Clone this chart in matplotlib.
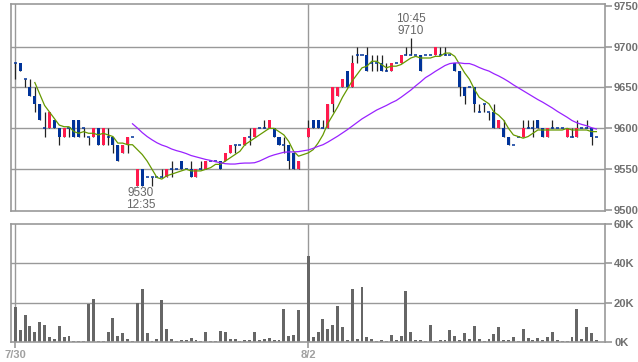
import numpy as np
import pandas as pd
import matplotlib
matplotlib.use('Agg')
import matplotlib.pyplot as plt

# 5-minute bars: index 0-59 = 7/30, index 60-119 = 8/2 (None = no bar)
opens = [9680, 9680, 9660, 9650, 9640, 9630, 9600, 9600, 9610, 9600,
         9590, 9600, 9610, 9610, 9600, 9590, 9590, 9600, 9580, 9590,
         9590, 9580, 9570, 9580, 9590, 9530, 9550, 9540, 9540, 9540,
         9540, 9540, 9550, 9550, 9560, 9550, 9550, 9540, 9550, 9550,
         9560, 9560, 9560, 9560, 9570, 9580, 9580, 9580, 9590, 9590,
         9600, 9600, 9600, 9600, 9590, 9580, 9580, 9570, 9550, None,
         9590, 9610, 9610, 9600, 9600, 9630, 9640, 9650, 9670, 9650,
         9690, 9690, 9690, 9680, 9680, 9680, 9670, 9670, 9680, 9680,
         9690, 9690, 9690, 9690, 9690, 9690, 9690, 9690, 9690, 9690,
         9680, 9670, 9650, 9650, 9650, 9620, 9630, 9620, 9620, 9600,
         9600, 9590, 9580, 9590, 9590, 9600, 9600, 9610, 9600, 9590,
         9600, 9600, 9600, 9590, 9590, 9590, 9600, 9600, 9600, 9590]
highs = [9680, 9680, 9660, 9660, 9650, 9630, 9620, 9620, 9610, 9600,
         9600, 9600, 9610, 9610, 9600, 9590, 9600, 9600, 9600, 9600,
         9590, 9580, 9580, 9590, 9590, 9550, 9550, 9540, 9540, 9540,
         9550, 9550, 9560, 9550, 9560, 9550, 9560, 9550, 9560, 9560,
         9560, 9560, 9560, 9570, 9580, 9580, 9580, 9590, 9600, 9600,
         9600, 9610, 9610, 9600, 9590, 9590, 9580, 9570, 9560, None,
         9610, 9610, 9610, 9610, 9630, 9650, 9650, 9660, 9670, 9690,
         9700, 9690, 9700, 9690, 9690, 9690, 9680, 9680, 9680, 9690,
         9700, 9710, 9690, 9690, 9690, 9690, 9700, 9700, 9700, 9690,
         9680, 9670, 9650, 9650, 9650, 9630, 9630, 9620, 9630, 9610,
         9610, 9590, 9580, 9590, 9610, 9610, 9610, 9610, 9600, 9600,
         9610, 9600, 9600, 9600, 9600, 9610, 9600, 9610, 9600, 9590]
lows = [9660, 9670, 9650, 9640, 9620, 9610, 9590, 9600, 9600, 9580,
        9590, 9590, 9590, 9590, 9590, 9580, 9590, 9580, 9580, 9580,
        9570, 9560, 9570, 9570, 9590, 9530, 9530, 9540, 9530, 9540,
        9540, 9540, 9540, 9550, 9550, 9550, 9540, 9540, 9550, 9550,
        9560, 9560, 9550, 9560, 9570, 9570, 9580, 9580, 9580, 9590,
        9600, 9600, 9600, 9590, 9580, 9570, 9550, 9550, 9550, None,
        9590, 9600, 9600, 9600, 9600, 9620, 9640, 9650, 9650, 9650,
        9680, 9690, 9670, 9670, 9670, 9670, 9670, 9670, 9680, 9680,
        9690, 9690, 9690, 9670, 9690, 9690, 9690, 9690, 9690, 9690,
        9670, 9640, 9630, 9650, 9620, 9620, 9620, 9610, 9600, 9600,
        9590, 9580, 9580, 9590, 9590, 9600, 9590, 9600, 9590, 9590,
        9600, 9600, 9600, 9590, 9590, 9590, 9600, 9600, 9580, 9590]
closes = [9680, 9670, 9660, 9640, 9630, 9610, 9600, 9620, 9600, 9590,
          9600, 9600, 9590, 9590, 9600, 9590, 9600, 9580, 9600, 9590,
          9580, 9560, 9580, 9590, 9590, 9550, 9530, 9540, 9540, 9540,
          9540, 9550, 9550, 9550, 9550, 9550, 9540, 9550, 9550, 9560,
          9560, 9560, 9550, 9570, 9580, 9580, 9580, 9590, 9590, 9600,
          9600, 9600, 9610, 9590, 9580, 9580, 9560, 9550, 9560, None,
          9600, 9600, 9600, 9600, 9630, 9650, 9650, 9660, 9650, 9680,
          9690, 9690, 9670, 9680, 9680, 9670, 9670, 9680, 9680, 9690,
          9690, 9690, 9690, 9670, 9690, 9690, 9700, 9690, 9690, 9690,
          9670, 9650, 9640, 9650, 9630, 9620, 9630, 9620, 9600, 9610,
          9590, 9580, 9580, 9590, 9600, 9600, 9600, 9600, 9590, 9600,
          9600, 9600, 9600, 9600, 9590, 9600, 9600, 9600, 9590, 9590]
# volume in shares
volumes = [17800, 6100, 13700, 8100, 5100, 10200, 8600, 2500, 1500, 8100,
           2500, 3000, 500, 500, 500, 19300, 21900, 500, 500, 5100,
           12200, 3000, 4600, 1500, 500, 20000, 27000, 4600, 500, 1500,
           21400, 6600, 1500, 500, 1000, 1000, 2000, 1000, 500, 5100,
           500, 500, 5600, 5100, 1500, 1500, 500, 1000, 1000, 5100,
           1000, 1500, 2000, 1000, 1000, 16800, 3000, 3600, 16300, 0,
           43700, 2500, 5000, 11600, 6600, 8600, 18200, 7600, 1000, 27200,
           1500, 28200, 2500, 1500, 500, 1000, 500, 3500, 1000, 3000,
           25700, 5000, 1000, 1000, 500, 8600, 500, 1000, 1000, 6000,
           3000, 1000, 4500, 1500, 8000, 1500, 500, 1500, 4000, 7600,
           1000, 1000, 2500, 500, 6600, 2000, 1000, 2000, 1000, 2500,
           5000, 1000, 500, 500, 2500, 16600, 1500, 7600, 4500, 1000]
day_labels = ['7/30', '8/2']
day_starts = [0, 60]
price_ticks = [9500, 9550, 9600, 9650, 9700, 9750]
vol_ticks = [0, 20000, 40000, 60000]
vol_labels = ['0K', '20K', '40K', '60K']

RED = '#ff1a4d'
BLUE = '#003399'
GRID = '#999999'
TXT = '#707070'
FONT = 'Liberation Sans'

o = np.array(opens, dtype=float)
h = np.array(highs, dtype=float)
l = np.array(lows, dtype=float)
c = np.array(closes, dtype=float)
x = np.arange(len(c))
ok = ~np.isnan(c)

fig = plt.figure(figsize=(6.38, 3.62), dpi=100)
ax = fig.add_axes([11/638, 1-211/362, 594/638, 207/362])
axv = fig.add_axes([11/638, 1-342/362, 594/638, 118/362])

xl = (-0.88, 120.76)
for a in (ax, axv):
    a.set_xlim(*xl)
    for s in a.spines.values():
        s.set_color(GRID)
        s.set_linewidth(1.2)
    for d in day_starts:
        a.axvline(d, color=GRID, lw=1, zorder=0)

# price panel
ax.set_ylim(9499, 9752)
for p in price_ticks[1:-1]:
    ax.axhline(p, color=GRID, lw=1, zorder=0)
ax.vlines(x[ok], l[ok], h[ok], color='#222222', lw=0.9, zorder=2)
up = ok & (c > o)
dn = ok & (c < o)
fl = ok & (c == o)
ax.bar(x[up], (c - o)[up], bottom=o[up], width=0.62, color=RED, zorder=3)
ax.bar(x[dn], (o - c)[dn], bottom=c[dn], width=0.62, color=BLUE, zorder=3)
ax.hlines(c[fl], x[fl] - 0.31, x[fl] + 0.31, color=BLUE, lw=1.1, zorder=3)

s = pd.Series(c[ok], index=x[ok])
ma5 = s.rolling(5).mean()
ma25 = s.rolling(25).mean()
ax.plot(ma5.index, ma5.values, color='#669900', lw=0.9, zorder=4)
ax.plot(ma25.index, ma25.values, color='#9922ff', lw=0.9, zorder=4)

ih = int(np.nanargmax(h))
il = int(np.nanargmin(l))
ax.text(ih, h[ih] + 2, '10:45\n%d' % h[ih], ha='center', va='bottom',
        fontsize=8.5, color='#666666', linespacing=1.0, family=FONT)
ax.text(il + 0.6, l[il] - 2, '%d\n12:35' % l[il], ha='center', va='top',
        fontsize=8.5, color='#666666', linespacing=1.0, family=FONT)

ax.yaxis.tick_right()
ax.set_yticks(price_ticks)
ax.set_yticklabels([str(p) for p in price_ticks])
ax.tick_params(axis='y', length=5, width=1.2, color=GRID, pad=1.5,
               labelsize=8, labelcolor=TXT)
for t in ax.get_yticklabels():
    t.set_fontweight('bold')
    t.set_family(FONT)
ax.set_xticks([])

# volume panel
axv.set_ylim(0, 60000)
for v in vol_ticks[1:-1]:
    axv.axhline(v, color=GRID, lw=1, zorder=0)
axv.bar(x, volumes, width=0.6, color='#666666', zorder=2)
axv.yaxis.tick_right()
axv.set_yticks(vol_ticks)
axv.set_yticklabels(vol_labels)
axv.tick_params(axis='y', length=5, width=1.2, color=GRID, pad=1.5,
                labelsize=8, labelcolor=TXT)
for t in axv.get_yticklabels():
    t.set_fontweight('bold')
    t.set_family(FONT)
axv.set_xticks(day_starts)
axv.set_xticklabels(day_labels)
axv.tick_params(axis='x', length=4, width=1.2, color=GRID, pad=1.5,
                labelsize=8, labelcolor='#a0a0a0')
for t in axv.get_xticklabels():
    t.set_fontweight('bold')
    t.set_family(FONT)

fig.savefig('out.png', dpi=100, facecolor='white')
